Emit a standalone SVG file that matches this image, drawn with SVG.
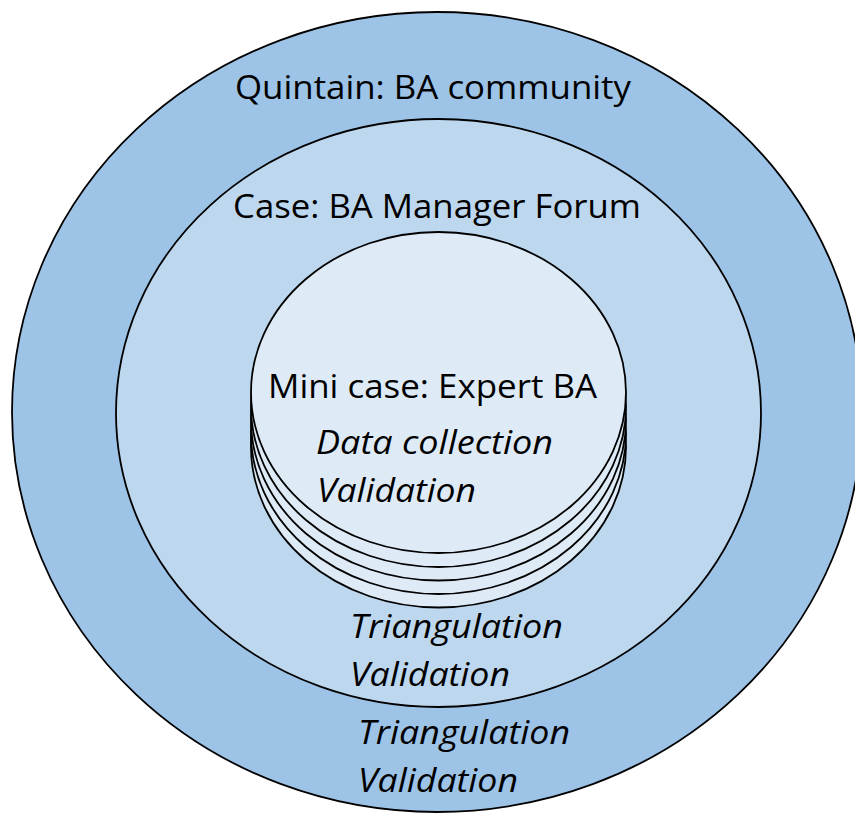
<svg xmlns="http://www.w3.org/2000/svg" width="855" height="813" viewBox="0 0 855 813">
<style>
.ring{stroke:#000;stroke-width:1.8}
.lbl{font-family:"Open Sans","Noto Sans","Liberation Sans",sans-serif;font-size:32px;fill:#000}
.it{font-style:italic}
</style>
<rect x="0" y="0" width="855" height="813" fill="#fff"/>
<g id="quintain">
<ellipse class="ring" cx="437" cy="412" rx="425" ry="400" fill="#9DC3E6"/>
<text class="lbl" x="235" y="99" textLength="396" lengthAdjust="spacingAndGlyphs">Quintain: BA community</text>
<text class="lbl it" x="358" y="744" textLength="212" lengthAdjust="spacingAndGlyphs">Triangulation</text>
<text class="lbl it" x="358" y="792" textLength="160" lengthAdjust="spacingAndGlyphs">Validation</text>
</g>
<g id="case">
<ellipse class="ring" cx="438.5" cy="413" rx="322.5" ry="294" fill="#BDD7EE"/>
<text class="lbl" x="233" y="218" textLength="408" lengthAdjust="spacingAndGlyphs">Case: BA Manager Forum</text>
<text class="lbl it" x="350" y="638" textLength="213" lengthAdjust="spacingAndGlyphs">Triangulation</text>
<text class="lbl it" x="350" y="686" textLength="160" lengthAdjust="spacingAndGlyphs">Validation</text>
</g>
<g id="minicase">
<ellipse class="ring" cx="438.5" cy="447" rx="187.5" ry="160.5" fill="#DEEBF7"/>
<ellipse class="ring" cx="438.5" cy="433.5" rx="187.5" ry="160.5" fill="#DEEBF7"/>
<ellipse class="ring" cx="438.5" cy="420" rx="187.5" ry="160.5" fill="#DEEBF7"/>
<ellipse class="ring" cx="438.5" cy="406.5" rx="187.5" ry="160.5" fill="#DEEBF7"/>
<ellipse class="ring" cx="438.5" cy="392.5" rx="187.5" ry="160.5" fill="#DEEBF7"/>
<text class="lbl" x="268" y="398" textLength="329" lengthAdjust="spacingAndGlyphs">Mini case: Expert BA</text>
<text class="lbl it" x="316" y="454" textLength="237" lengthAdjust="spacingAndGlyphs">Data collection</text>
<text class="lbl it" x="317" y="502" textLength="159" lengthAdjust="spacingAndGlyphs">Validation</text>
</g>
<g id="connectors"></g>
</svg>
